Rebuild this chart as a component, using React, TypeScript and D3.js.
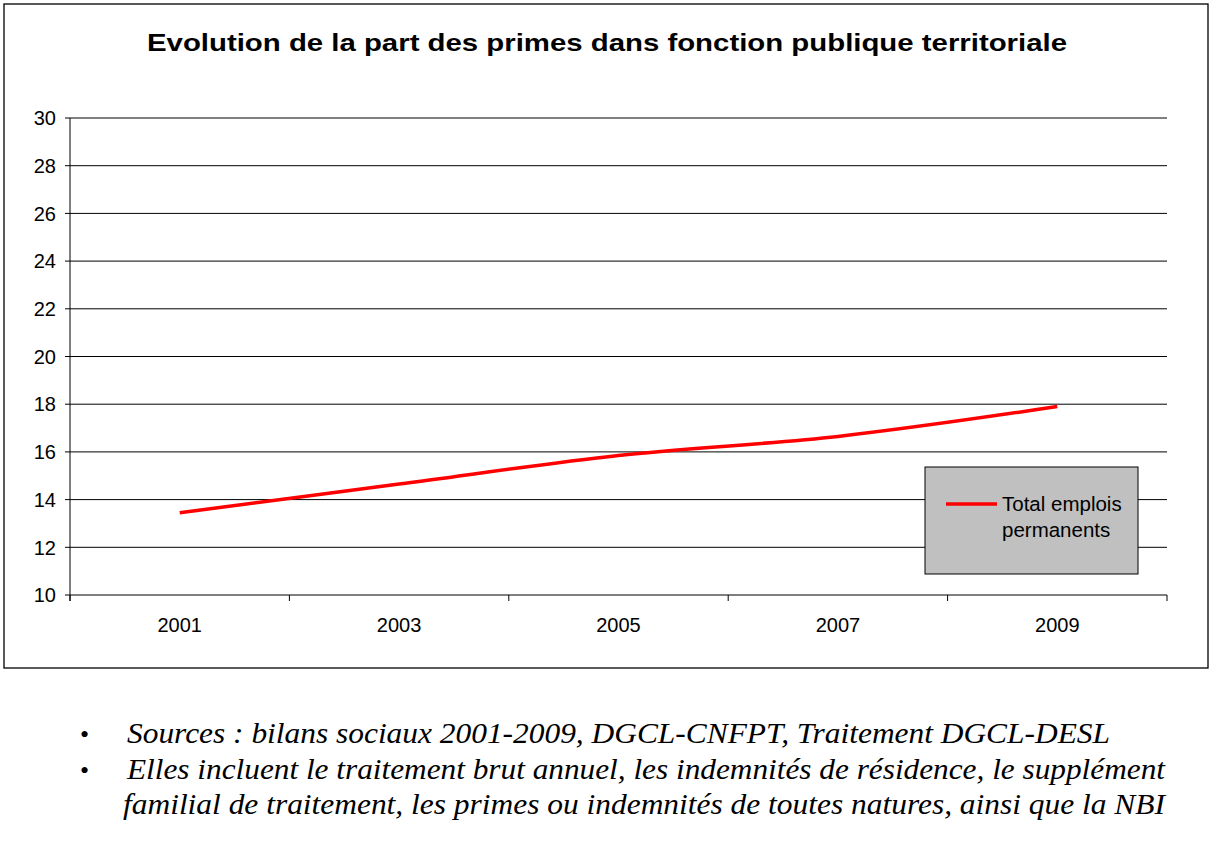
import React from 'react';
import * as d3 from 'd3';

const years = ['2001', '2003', '2005', '2007', '2009'];
const totalEmplois = [13.45, 14.65, 15.85, 16.65, 17.9];
const yTicks = [10, 12, 14, 16, 18, 20, 22, 24, 26, 28, 30];
const seriesName = ['Total emplois', 'permanents'];
const title = 'Evolution de la part des primes dans fonction publique territoriale';
const notes = [
  ['Sources : bilans sociaux 2001-2009, DGCL-CNFPT, Traitement DGCL-DESL'],
  [
    'Elles incluent le traitement brut annuel, les indemnités de résidence, le supplément',
    'familial de traitement, les primes ou indemnités de toutes natures, ainsi que la NBI',
  ],
];

const W = 1213;
const H = 853;
const plot = { left: 70, right: 1167, top: 118, bottom: 595 };

const App: React.FC = () => {
  const x = d3.scaleBand<string>().domain(years).range([plot.left, plot.right]);
  const y = d3.scaleLinear().domain([10, 30]).range([plot.bottom, plot.top]);

  const line = d3
    .line<number>()
    .x((_, i) => x(years[i])! + x.bandwidth() / 2)
    .y(d => y(d))
    .curve(d3.curveCatmullRom.alpha(0.5));

  const boundaries = d3.range(years.length + 1).map(i => plot.left + i * x.bandwidth());
  const axisFont = '"Liberation Sans", Arial, sans-serif';
  const serif = '"Liberation Serif", "Times New Roman", serif';

  // footnote line positions
  const noteLines: { text: string; bullet: boolean }[] = [];
  notes.forEach(n => n.forEach((t, j) => noteLines.push({ text: t, bullet: j === 0 })));
  const noteWidths = [983, 1038, 1042];
  const noteX = [127, 127, 123];

  return (
    <div style={{ position: 'absolute', left: 0, top: 0 }}>
      <svg width={W} height={H} style={{ display: 'block', background: '#fff' }}>
        <rect x={4} y={4} width={1204} height={664} fill="#fff" stroke="#000" strokeWidth={1.3} />
        <text
          x={147}
          y={51}
          textLength={920}
          lengthAdjust="spacingAndGlyphs"
          fontFamily={axisFont}
          fontWeight="bold"
          fontSize={24}
          fill="#000"
        >
          {title}
        </text>

        {/* gridlines */}
        {yTicks.map(t => (
          <line key={t} x1={plot.left - 5} x2={plot.right} y1={y(t)} y2={y(t)} stroke="#000" strokeWidth={1} />
        ))}
        <line x1={plot.left} x2={plot.left} y1={plot.top} y2={plot.bottom + 6} stroke="#000" strokeWidth={1} />
        {boundaries.map((b, i) => (
          <line key={i} x1={b} x2={b} y1={plot.bottom} y2={plot.bottom + 6} stroke="#000" strokeWidth={1} />
        ))}

        {yTicks.map(t => (
          <text key={t} x={56} y={y(t)} dy="0.36em" textAnchor="end" fontFamily={axisFont} fontSize={20} fill="#000">
            {t}
          </text>
        ))}
        {years.map(yr => (
          <text
            key={yr}
            x={x(yr)! + x.bandwidth() / 2}
            y={632}
            textAnchor="middle"
            fontFamily={axisFont}
            fontSize={20}
            fill="#000"
          >
            {yr}
          </text>
        ))}

        <path d={line(totalEmplois) || ''} fill="none" stroke="#ff0000" strokeWidth={3.5} strokeLinejoin="round" />

        {/* legend */}
        <rect x={925} y={467} width={213} height={107} fill="#c0c0c0" stroke="#000" strokeWidth={1} />
        <line x1={946} x2={997} y1={504} y2={504} stroke="#ff0000" strokeWidth={3.5} />
        {seriesName.map((s, i) => (
          <text key={s} x={1002} y={511 + i * 26} fontFamily={axisFont} fontSize={20.5} fill="#000">
            {s}
          </text>
        ))}

        {/* footnotes */}
        {noteLines.map((l, i) => (
          <g key={i}>
            {l.bullet && (
              <text x={80} y={743 + i * 35.5} fontFamily={serif} fontSize={26} fill="#000">
                •
              </text>
            )}
            <text
              x={noteX[i]}
              y={743 + i * 35.5}
              textLength={noteWidths[i]}
              lengthAdjust="spacingAndGlyphs"
              fontFamily={serif}
              fontStyle="italic"
              fontSize={30}
              fill="#000"
            >
              {l.text}
            </text>
          </g>
        ))}
      </svg>
    </div>
  );
};

export default App;
